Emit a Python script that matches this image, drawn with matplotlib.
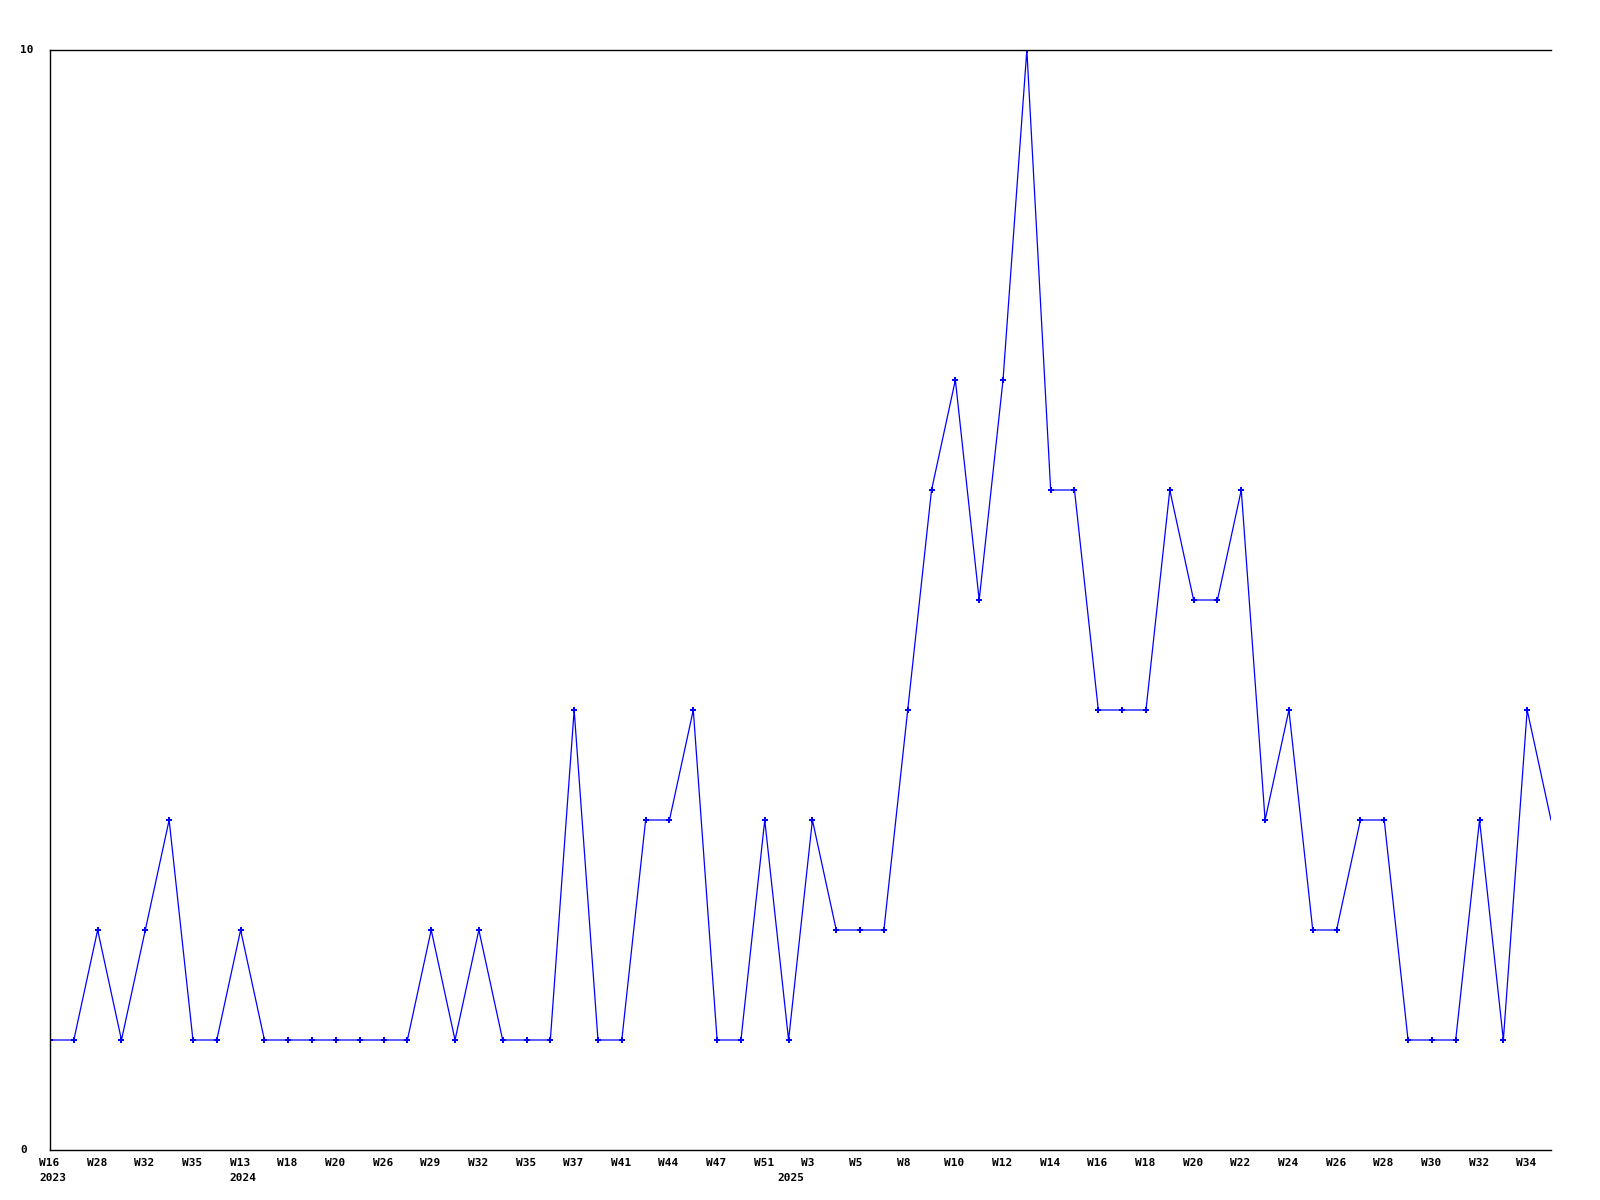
import matplotlib
matplotlib.use("Agg")
import matplotlib.pyplot as plt
import matplotlib.transforms as mtransforms

values = [1, 1, 2, 1, 2, 3, 1, 1, 2, 1, 1, 1, 1, 1, 1, 1,
          2, 1, 2, 1, 1, 1, 4, 1, 1, 3, 3, 4, 1, 1, 3, 1,
          3, 2, 2, 2, 4, 6, 7, 5, 7, 10, 6, 6, 4, 4, 4, 6,
          5, 5, 6, 3, 4, 2, 2, 3, 3, 1, 1, 1, 3, 1, 4, 3]
week_labels = ["W16", "W28", "W32", "W35", "W13", "W18", "W20", "W26",
               "W29", "W32", "W35", "W37", "W41", "W44", "W47", "W51",
               "W3", "W5", "W8", "W10", "W12", "W14", "W16", "W18",
               "W20", "W22", "W24", "W26", "W28", "W30", "W32", "W34"]
week_label_idx = list(range(0, 64, 2))
year_labels = ["2023", "2024", "2025"]
year_label_idx = [0, 8, 31]
y_ticks = [0, 10]

fig = plt.figure(figsize=(16, 12), dpi=100)
ax = fig.add_axes([50/1600, 1 - 1150/1200, (1551-50)/1600, 1100/1200])

x = list(range(len(values)))
ax.plot(x, values, color="#0000ff", linewidth=0.9, marker="P", markersize=4,
        markeredgewidth=0, markevery=list(range(len(values) - 1)))

ax.set_xlim(0, len(values) - 1)
ax.set_ylim(0, 10)
for s in ["left", "top", "bottom"]:
    ax.spines[s].set_linewidth(1.0)
    ax.spines[s].set_color("black")
ax.spines["right"].set_visible(False)

font = dict(family="DejaVu Sans Mono", fontweight="bold", fontsize=8)

ax.set_xticks([])
ax.set_yticks([])

off_x = mtransforms.ScaledTranslation(-11/100, -8/100, fig.dpi_scale_trans)
trans = mtransforms.blended_transform_factory(ax.transData, ax.transAxes) + off_x
for i, lab in zip(week_label_idx, week_labels):
    ax.text(i, 0, lab, transform=trans, ha="left", va="top", **font)
off_y = mtransforms.ScaledTranslation(-11/100, -23/100, fig.dpi_scale_trans)
trans2 = mtransforms.blended_transform_factory(ax.transData, ax.transAxes) + off_y
for i, lab in zip(year_label_idx, year_labels):
    ax.text(i, 0, lab, transform=trans2, ha="left", va="top", **font)

off_l = mtransforms.ScaledTranslation(-30/100, 0, fig.dpi_scale_trans)
trans3 = mtransforms.blended_transform_factory(ax.transAxes, ax.transData) + off_l
for v in y_ticks:
    ax.text(0, v, str(v), transform=trans3, ha="left", va="center", **font)

fig.savefig("out.png", dpi=100)
